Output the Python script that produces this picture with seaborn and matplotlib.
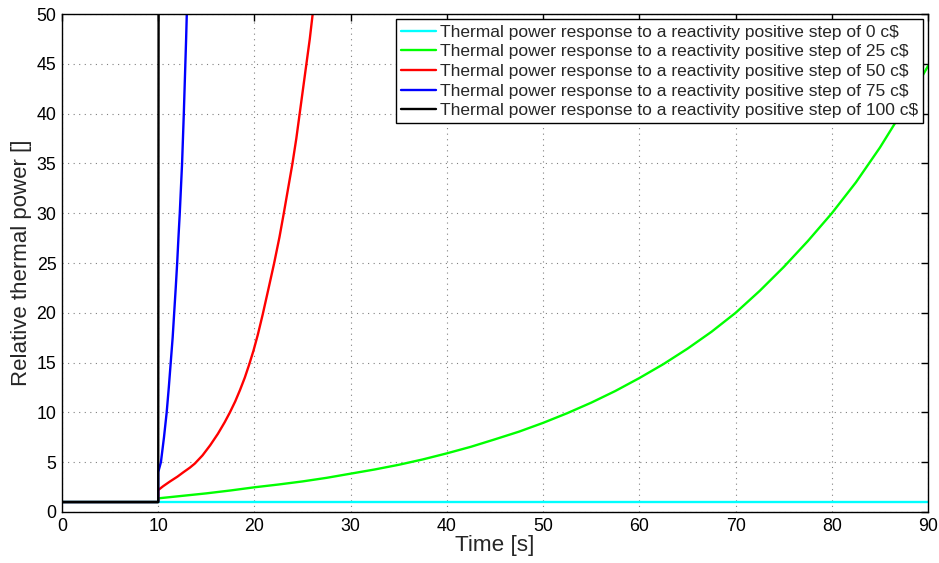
import numpy as np
import pandas as pd
import matplotlib
matplotlib.use("Agg")
import matplotlib.pyplot as plt
import seaborn as sns

# ---- data ----
t_0c = [0, 10, 90]
p_0c = [1.0, 1.0, 1.0]

t_25c = [0, 10, 10, 12.5, 15, 17.5, 20, 22.5, 25, 27.5, 30, 32.5, 35, 37.5, 40, 42.5, 45,
         47.5, 50, 52.5, 55, 57.5, 60, 62.5, 65, 67.5, 70, 72.5, 75, 77.5, 80, 82.5, 85, 87.5, 90]
p_25c = [1.0, 1.0, 1.37, 1.62, 1.87, 2.16, 2.48, 2.76, 3.07, 3.43, 3.85, 4.27, 4.74, 5.28, 5.89, 6.55, 7.3,
         8.07, 8.95, 9.92, 10.98, 12.15, 13.45, 14.85, 16.4, 18.1, 20.0, 22.2, 24.6, 27.2, 30.0, 33.1, 36.6, 40.5, 44.8]

t_50c = [0, 10, 10, 10.5, 11.2, 12.0, 12.6, 13.3, 13.8, 14.6, 15.4, 16.2, 16.9, 17.45, 18.0, 18.5,
         19.0, 19.45, 19.9, 20.35, 20.85, 21.5, 22.05, 22.6, 23.05, 23.5, 23.95, 24.35, 24.7, 25.05,
         25.4, 25.75, 26.05, 26.35]
p_50c = [1.0, 1.0, 2.2, 2.58, 3.05, 3.55, 3.98, 4.46, 4.86, 5.68, 6.7, 7.85, 9.0, 10.0, 11.1, 12.25,
         13.5, 14.8, 16.2, 17.8, 19.8, 22.6, 25.0, 27.6, 30.0, 32.5, 35.0, 37.5, 40.0, 42.5,
         45.0, 47.5, 50.0, 52.5]

t_75c = [0, 10, 10, 10.28, 10.6, 10.88, 11.1, 11.3, 11.5, 11.66, 11.82, 11.97, 12.1, 12.24,
         12.36, 12.48, 12.57, 12.66, 12.74, 12.82, 12.9, 12.97, 13.04]
p_75c = [1.0, 1.0, 4.0, 5.0, 7.5, 10.0, 12.5, 15.0, 17.5, 20.0, 22.5, 25.0, 27.5, 30.0,
         32.5, 35.0, 37.5, 40.0, 42.5, 45.0, 47.5, 50.0, 52.5]

t_100c = [0, 10, 10.02, 10.05]
p_100c = [1.0, 1.0, 30.0, 60.0]

steps = ["0", "25", "50", "75", "100"]
colors = ["#00ffff", "#00ff00", "#ff0000", "#0000ff", "#000000"]
series = [(t_0c, p_0c), (t_25c, p_25c), (t_50c, p_50c), (t_75c, p_75c), (t_100c, p_100c)]

sns.set_style("white")
plt.rcParams['font.family'] = ['Liberation Sans', 'DejaVu Sans']

fig = plt.figure(figsize=(9.39, 5.63), dpi=100)
ax = fig.add_axes([0.066, 0.0906, 0.9224, 0.8845])

for (tt, pp), st, c in zip(series, steps, colors):
    df = pd.DataFrame({"t": tt, "p": pp})
    sns.lineplot(data=df, x="t", y="p", color=c, linewidth=1.7, sort=False,
                 estimator=None, ax=ax,
                 label="Thermal power response to a reactivity positive step of " + st + " c$")

ax.set_xlim(0, 90)
ax.set_ylim(0, 50)
ax.set_xticks(np.arange(0, 91, 10))
ax.set_yticks(np.arange(0, 51, 5))
ax.tick_params(direction="in", length=5, width=1, top=True, right=True,
               labelsize=12.8, colors="black", pad=4)
ax.grid(True, linestyle=(0, (1, 4)), color="#808080", linewidth=0.8)
for s in ax.spines.values():
    s.set_color("black")
    s.set_linewidth(1.0)

ax.set_xlabel("Time [s]", fontsize=16.2, labelpad=0)
ax.set_ylabel("Relative thermal power []", fontsize=16, labelpad=3)

leg = ax.legend(loc="upper right", fontsize=12.5, frameon=True, fancybox=False,
                framealpha=1, edgecolor="black", handlelength=2.0,
                handletextpad=0.2, borderpad=0.3, labelspacing=0.26,
                borderaxespad=0.3)
leg.get_frame().set_linewidth(1.0)

plt.savefig("out.png", dpi=100)
